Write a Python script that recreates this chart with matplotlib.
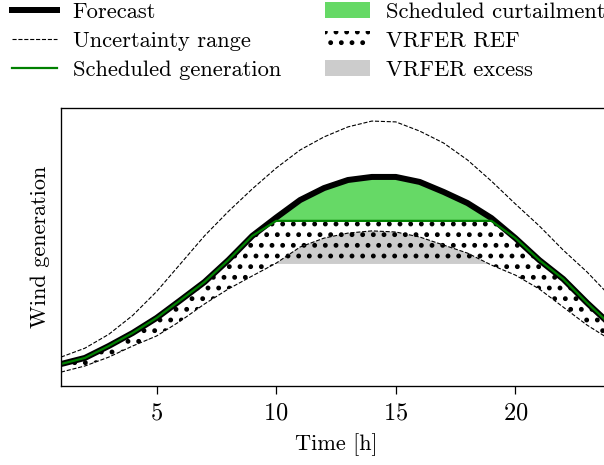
import numpy as np
import matplotlib
matplotlib.use('Agg')
import matplotlib.pyplot as plt
from matplotlib.lines import Line2D
from matplotlib.patches import Patch

# hourly values (arbitrary units, axis 0..100)
hours = np.arange(1, 25)
forecast = [7.9, 10.1, 14.4, 19.1, 24.5, 30.9, 37.4, 45.3, 54.0, 60.6, 66.9, 71.2,
            74.1, 75.2, 75.2, 73.4, 69.8, 65.8, 60.4, 53.2, 45.3, 38.5, 29.9, 21.9]
upper = [10.4, 13.6, 18.6, 25.4, 34.0, 44.0, 54.0, 62.8, 70.9, 78.4, 84.9, 89.6,
         93.2, 95.3, 95.0, 91.7, 87.4, 81.3, 73.7, 65.5, 57.6, 48.9, 41.0, 32.0]
lower = [5.0, 7.2, 10.4, 14.4, 18.0, 23.4, 29.5, 34.9, 39.6, 44.2, 50.0, 53.2,
         55.0, 55.8, 55.4, 53.6, 50.7, 47.8, 43.5, 39.9, 34.9, 28.4, 21.9, 16.5]
curtail_cap = 59.4     # scheduled generation limit
excess_level = 43.9    # VRFER reference level

forecast = np.array(forecast)
upper = np.array(upper)
lower = np.array(lower)
scheduled = np.minimum(forecast, curtail_cap)
level = np.full_like(lower, excess_level)

green_fill = '#66d966'
grey_fill = '#cccccc'

plt.rcParams['font.family'] = 'serif'
plt.rcParams['font.serif'] = ['cmr10']
plt.rcParams['mathtext.fontset'] = 'cm'
plt.rcParams['axes.formatter.use_mathtext'] = True
plt.rcParams['hatch.linewidth'] = 3.0

DPI = 64
fig = plt.figure(figsize=(604 / DPI, 465 / DPI), dpi=DPI)
ax = fig.add_axes([61 / 604, 1 - 386 / 465, 550 / 604, 278 / 465])

# filled areas
ax.fill_between(hours, scheduled, forecast, where=forecast > scheduled,
                interpolate=True, facecolor=green_fill, linewidth=0)
ax.fill_between(hours, level, lower, where=lower > level, interpolate=True,
                facecolor=grey_fill, linewidth=0)
ax.fill_between(hours, lower, scheduled, facecolor='none', edgecolor='black',
                hatch='.', linewidth=0)
ax.fill_between(hours, level, lower, where=lower > level, interpolate=True,
                facecolor='none', edgecolor='black', hatch='.', linewidth=0)

# lines
ax.plot(hours, upper, color='black', lw=1.25, ls='--')
ax.plot(hours, lower, color='black', lw=1.25, ls='--')
ax.plot(hours, forecast, color='black', lw=6.75, solid_joinstyle='round')
ax.plot(hours, scheduled, color='green', lw=2.5)

ax.set_xlim(1, 24)
ax.set_ylim(0, 100)
ax.set_xticks([5, 10, 15, 20])
ax.set_yticks([])
ax.tick_params(axis='x', direction='out', length=9, width=1.4, pad=9,
               labelsize=27.5)
for s in ax.spines.values():
    s.set_linewidth(1.5)

ax.set_xlabel('Time [h]', fontsize=25)
ax.set_ylabel('Wind generation', fontsize=25)
ax.xaxis.set_label_coords(0.5, -0.17)
ax.yaxis.set_label_coords(-0.02, 0.5)

handles = [
    Line2D([], [], color='black', lw=6.75),
    Line2D([], [], color='black', lw=1.25, ls='--'),
    Line2D([], [], color='green', lw=2.5),
    Patch(facecolor=green_fill, linewidth=0),
    Patch(facecolor='white', edgecolor='black', hatch='.', linewidth=0),
    Patch(facecolor=grey_fill, linewidth=0),
]
labels = ['Forecast', 'Uncertainty range', 'Scheduled generation',
          'Scheduled curtailment', 'VRFER REF', 'VRFER excess']
fig.legend(handles, labels, loc='upper left',
           bbox_to_anchor=(12 / 604, 1 - 2 / 465),
           ncol=2, frameon=False, fontsize=25.3, borderpad=0, borderaxespad=0,
           handlelength=2.0, handletextpad=0.7, columnspacing=1.95,
           labelspacing=0.42)

fig.savefig('out.png', dpi=DPI)
